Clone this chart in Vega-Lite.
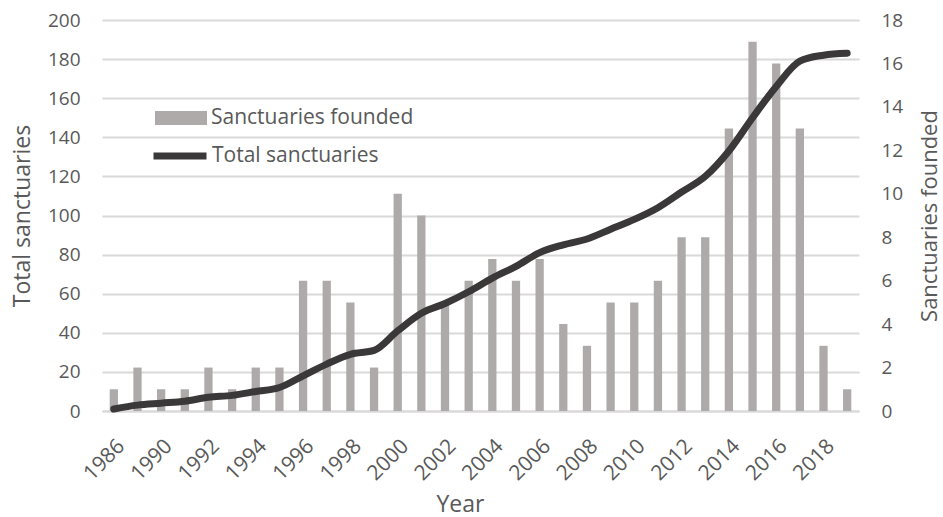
{
  "$schema": "https://vega.github.io/schema/vega-lite/v6.json",
  "width": 757,
  "height": 391,
  "autosize": "none",
  "padding": {"left": 102, "top": 20, "right": 84, "bottom": 106},
  "background": "white",
  "config": {
    "view": {"stroke": null},
    "font": "Open Sans",
    "axis": {"labelColor": "#595959", "titleColor": "#595959", "labelFont": "Open Sans", "titleFont": "Open Sans", "titleFontWeight": "normal"},
    "legend": {"labelColor": "#595959", "labelFont": "Open Sans"}
  },
  "data": {
    "values": [
      {"year": "1986", "founded": 1, "total": 1},
      {"year": "1989", "founded": 2, "total": 3},
      {"year": "1990", "founded": 1, "total": 4},
      {"year": "1991", "founded": 1, "total": 5},
      {"year": "1992", "founded": 2, "total": 7},
      {"year": "1993", "founded": 1, "total": 8},
      {"year": "1994", "founded": 2, "total": 10},
      {"year": "1995", "founded": 2, "total": 12},
      {"year": "1996", "founded": 6, "total": 18},
      {"year": "1997", "founded": 6, "total": 24},
      {"year": "1998", "founded": 5, "total": 29},
      {"year": "1999", "founded": 2, "total": 31},
      {"year": "2000", "founded": 10, "total": 41},
      {"year": "2001", "founded": 9, "total": 50},
      {"year": "2002", "founded": 5, "total": 55},
      {"year": "2003", "founded": 6, "total": 61},
      {"year": "2004", "founded": 7, "total": 68},
      {"year": "2005", "founded": 6, "total": 74},
      {"year": "2006", "founded": 7, "total": 81},
      {"year": "2007", "founded": 4, "total": 85},
      {"year": "2008", "founded": 3, "total": 88},
      {"year": "2009", "founded": 5, "total": 93},
      {"year": "2010", "founded": 5, "total": 98},
      {"year": "2011", "founded": 6, "total": 104},
      {"year": "2012", "founded": 8, "total": 112},
      {"year": "2013", "founded": 8, "total": 120},
      {"year": "2014", "founded": 13, "total": 133},
      {"year": "2015", "founded": 17, "total": 150},
      {"year": "2016", "founded": 16, "total": 166},
      {"year": "2017", "founded": 13, "total": 179},
      {"year": "2018", "founded": 3, "total": 182},
      {"year": "2019", "founded": 1, "total": 183}
    ]
  },
  "encoding": {
    "x": {
      "field": "year",
      "type": "ordinal",
      "sort": null,
      "scale": {"paddingInner": 0.65, "paddingOuter": 0.325},
      "axis": {
        "title": "Year",
        "titleFontSize": 23,
        "titleX": 358,
        "titleY": 100,
        "titleAlign": "center",
        "titleAnchor": null,
        "titleBaseline": "alphabetic",
        "values": ["1986", "1990", "1992", "1994", "1996", "1998", "2000", "2002", "2004", "2006", "2008", "2010", "2012", "2014", "2016", "2018"],
        "labelAngle": -45,
        "labelAlign": "right",
        "labelBaseline": "top",
        "labelFontSize": 21,
        "labelPadding": 24,
        "labelOverlap": false,
        "ticks": false,
        "domainColor": "#d9d9d9",
        "domainWidth": 2
      }
    }
  },
  "layer": [
    {
      "mark": {"type": "bar", "color": "#aeaaaa"},
      "encoding": {
        "y": {
          "field": "founded",
          "type": "quantitative",
          "scale": {"domain": [0, 18]},
          "axis": {
            "orient": "right",
            "title": "Sanctuaries founded",
            "titleFontSize": 22,
            "titleAngle": -90,
            "titleX": 70,
            "titleY": 195.5,
            "titleAlign": "center",
            "titleBaseline": "middle",
            "values": [0, 2, 4, 6, 8, 10, 12, 14, 16, 18],
            "labelFontSize": 19,
            "labelPadding": 22,
            "ticks": false,
            "domain": false,
            "grid": false
          }
        },
        "fill": {
          "datum": "Sanctuaries founded",
          "scale": {"range": ["#aeaaaa"]},
          "legend": {
            "title": null,
            "orient": "none",
            "legendX": 53,
            "legendY": 72,
            "symbolType": "M-1,-0.27H1V0.27H-1Z",
            "symbolSize": 2704,
            "symbolStrokeWidth": 0,
            "labelFontSize": 21,
            "labelOffset": 4,
            "labelLimit": 400,
            "padding": 0
          }
        }
      }
    },
    {
      "mark": {"type": "line", "color": "#3a3838", "strokeWidth": 7, "interpolate": "monotone", "strokeCap": "round", "strokeJoin": "round"},
      "encoding": {
        "y": {
          "field": "total",
          "type": "quantitative",
          "scale": {"domain": [0, 200]},
          "axis": {
            "orient": "left",
            "title": "Total sanctuaries",
            "titleFontSize": 23,
            "titleAngle": -90,
            "titleX": -80,
            "titleY": 195.5,
            "titleAlign": "center",
            "titleBaseline": "middle",
            "values": [0, 20, 40, 60, 80, 100, 120, 140, 160, 180, 200],
            "labelFontSize": 19,
            "labelPadding": 22,
            "ticks": false,
            "domain": false,
            "grid": true,
            "gridColor": "#d9d9d9",
            "gridWidth": 2
          }
        },
        "stroke": {
          "datum": "Total sanctuaries",
          "scale": {"range": ["#3a3838"]},
          "legend": {
            "title": null,
            "orient": "none",
            "legendX": 48,
            "legendY": 106,
            "symbolType": "stroke",
            "symbolSize": 2809,
            "symbolStrokeWidth": 7,
            "labelFontSize": 21,
            "labelOffset": 2,
            "labelLimit": 400,
            "padding": 0
          }
        }
      }
    }
  ],
  "resolve": {"scale": {"y": "independent", "fill": "independent", "stroke": "independent"}}
}
